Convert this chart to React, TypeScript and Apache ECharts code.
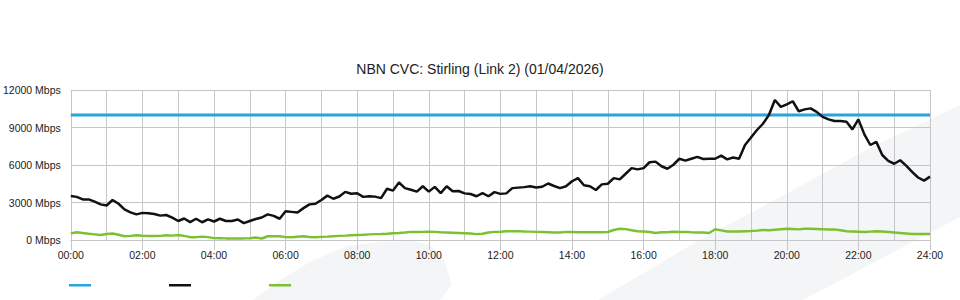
import React, { useEffect, useRef } from "react";
import * as echarts from "echarts";

const TITLE = "NBN CVC: Stirling (Link 2) (01/04/2026)";
const STEP_MIN = 10;
const CAPACITY_MBPS = 10000;
const Y_TICKS = [0, 3000, 6000, 9000, 12000];

// download (black), 10-minute samples, one row per hour
const DOWNLOAD = [
  3520, 3450, 3250, 3250, 3070, 2850,
  2760, 3200, 2900, 2450, 2210, 2050,
  2170, 2140, 2080, 1950, 2000, 1790,
  1520, 1720, 1430, 1700, 1420, 1650,
  1480, 1700, 1520, 1520, 1640, 1350,
  1520, 1680, 1800, 2050, 1930, 1700,
  2300, 2250, 2200, 2550, 2850, 2900,
  3200, 3550, 3300, 3480, 3850, 3700,
  3740, 3450, 3500, 3470, 3350, 4100,
  3950, 4600, 4150, 4020, 3870, 4300,
  3870, 4250, 3750, 4300, 3900, 3920,
  3730, 3680, 3500, 3750, 3500, 3830,
  3690, 3730, 4150, 4190, 4230, 4300,
  4200, 4260, 4520, 4320, 4150, 4300,
  4700, 4950, 4380, 4300, 4000, 4450,
  4500, 4950, 4850, 5300, 5750, 5650,
  5750, 6220, 6270, 5900, 5700, 6020,
  6500, 6350, 6500, 6650, 6480, 6500,
  6500, 6750, 6450, 6600, 6500, 7600,
  8200, 8800, 9300, 10000, 11200, 10650,
  10850, 11100, 10300, 10450, 10530, 10250,
  9850, 9650, 9520, 9520, 9460, 8850,
  9650, 8450, 7600, 7850, 6800, 6330,
  6100, 6380, 5950, 5450, 5000, 4750,
  5070,
];

// upload (green), 10-minute samples, one row per hour
const UPLOAD = [
  530, 620, 560, 500, 450, 400,
  480, 520, 420, 300, 330, 380,
  340, 320, 320, 330, 380, 350,
  400, 330, 230, 230, 270, 230,
  150, 140, 130, 130, 130, 130,
  140, 200, 120, 300, 310, 300,
  230, 220, 260, 300, 240, 220,
  250, 270, 300, 330, 350, 380,
  400, 420, 450, 470, 480, 500,
  540, 560, 600, 650, 640, 650,
  660, 650, 620, 600, 580, 560,
  540, 520, 470, 500, 600, 650,
  660, 700, 700, 710, 680, 670,
  650, 640, 620, 600, 600, 650,
  640, 620, 620, 620, 620, 620,
  640, 800, 900, 870, 780, 700,
  680, 640, 560, 620, 620, 660,
  640, 650, 620, 600, 600, 560,
  860, 770, 680, 690, 680, 700,
  720, 750, 800, 780, 820, 860,
  900, 880, 850, 900, 900, 880,
  860, 840, 850, 780, 700, 680,
  660, 640, 670, 700, 680, 640,
  600, 560, 520, 480, 480, 480,
  480,
];

const pad = (n: number) => (n < 10 ? "0" + n : "" + n);
const TIMES = DOWNLOAD.map((_, i) => {
  const m = i * STEP_MIN;
  return pad(Math.floor(m / 60)) + ":" + pad(m % 60);
});
const CAPACITY = TIMES.map(() => CAPACITY_MBPS);

const FONT = "'Liberation Sans', Arial, sans-serif";
const GRID_COLOR = "#c6c6c6";
const WM = "#f4f5f7";

export default function App() {
  const ref = useRef<HTMLDivElement>(null);
  useEffect(() => {
    if (!ref.current) return;
    const chart = echarts.init(ref.current, undefined, { renderer: "svg" });
    const perHour = 60 / STEP_MIN;
    chart.setOption({
      animation: false,
      backgroundColor: "#ffffff",
      textStyle: { fontFamily: FONT },
      graphic: [
        {
          type: "polygon",
          silent: true,
          z: -10,
          shape: {
            points: [
              [598, 300], [703, 238], [760, 208], [870, 148], [960, 105],
              [960, 217], [803, 300],
            ],
          },
          style: { fill: WM },
        },
        {
          type: "polygon",
          silent: true,
          z: -10,
          shape: {
            points: [
              [253, 300], [280, 280], [310, 262], [347, 246], [380, 242],
              [413, 241], [430, 245], [443, 257], [452, 285], [440, 300],
            ],
          },
          style: { fill: WM },
        },
      ],
      title: {
        text: TITLE,
        left: "center",
        top: 62,
        padding: 0,
        textStyle: { fontSize: 14, fontWeight: "normal", color: "#222", fontFamily: FONT },
      },
      legend: {
        left: 69,
        top: 284,
        padding: 0,
        icon: "rect",
        itemWidth: 22,
        itemHeight: 2.5,
        itemGap: 78,
        formatter: () => "",
        selectedMode: false,
        data: ["Capacity", "Download", "Upload"],
      },
      grid: { left: 70, right: 30, top: 90, bottom: 60 },
      xAxis: {
        type: "category",
        data: TIMES,
        boundaryGap: false,
        axisLine: { show: true, lineStyle: { color: GRID_COLOR, width: 1 } },
        axisTick: {
          show: true,
          length: 10,
          interval: (i: number) => i % (2 * perHour) === 0,
          lineStyle: { color: GRID_COLOR },
        },
        axisLabel: {
          interval: (i: number) => i % (2 * perHour) === 0,
          formatter: (v: string, i: number) => (i === TIMES.length - 1 ? "24:00" : v),
          fontSize: 10.5,
          color: "#222",
          margin: 9,
          fontFamily: FONT,
        },
        splitLine: {
          show: true,
          interval: (i: number) => i % perHour === 0,
          lineStyle: { color: GRID_COLOR, width: 1 },
        },
      },
      yAxis: {
        type: "value",
        min: Y_TICKS[0],
        max: Y_TICKS[Y_TICKS.length - 1],
        interval: Y_TICKS[1] - Y_TICKS[0],
        axisLine: { show: false },
        axisTick: { show: false },
        axisLabel: {
          formatter: (v: number) => String(v) + " Mbps",
          fontSize: 10.5,
          color: "#222",
          margin: 10,
          fontFamily: FONT,
        },
        splitLine: { show: true, lineStyle: { color: GRID_COLOR, width: 1 } },
      },
      series: [
        {
          name: "Capacity",
          type: "line",
          data: CAPACITY,
          symbol: "none",
          color: "#25a4dd",
          lineStyle: { color: "#25a4dd", width: 3 },
        },
        {
          name: "Download",
          type: "line",
          data: DOWNLOAD,
          symbol: "none",
          color: "#111111",
          lineStyle: { color: "#111111", width: 2.5 },
        },
        {
          name: "Upload",
          type: "line",
          data: UPLOAD,
          symbol: "none",
          color: "#7cc12f",
          lineStyle: { color: "#7cc12f", width: 2.5 },
        },
      ],
    });
    return () => chart.dispose();
  }, []);
  return (
    <div
      ref={ref}
      style={{ position: "absolute", left: 0, top: 0, width: 960, height: 300 }}
    />
  );
}
